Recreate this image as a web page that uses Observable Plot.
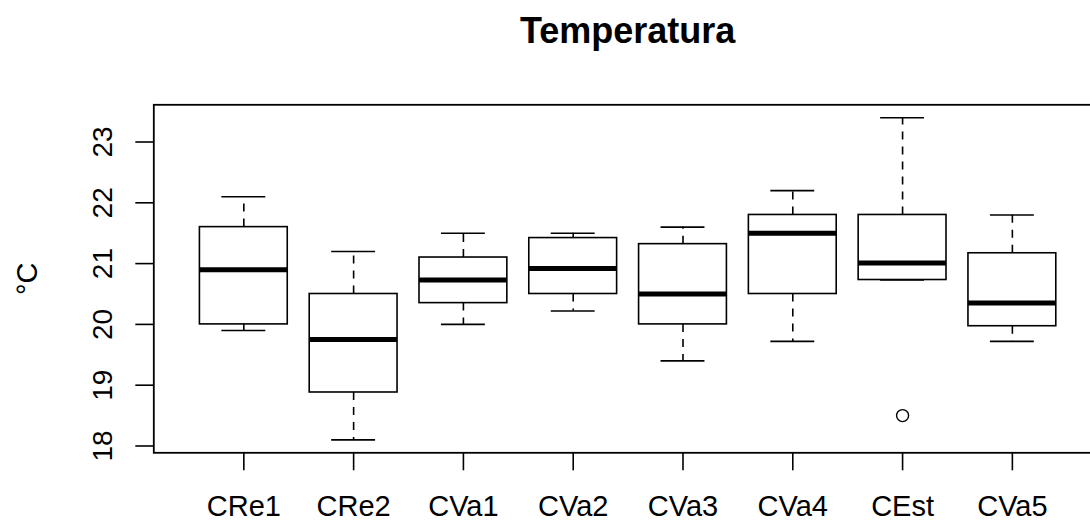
<!DOCTYPE html>
<html>
<head>
<meta charset="utf-8">
<script src="https://cdn.jsdelivr.net/npm/d3@7"></script>
<script src="https://cdn.jsdelivr.net/npm/@observablehq/plot@0.6"></script>
<style>
  html, body { margin: 0; padding: 0; background: white; overflow: hidden; }
  #title { position: relative; height: 60px; width: 1090px; font-family: "Liberation Sans", Arial, sans-serif; }
  #title span { position: absolute; left: 627.6px; top: 13px; transform: translateX(-50%); font-size: 36px; line-height: 36px; font-weight: bold; color: #000; white-space: nowrap; }
</style>
</head>
<body>
<div id="title"><span>Temperatura</span></div>
<div id="chart"></div>
<script>
// ---- data ----
const categories   = ["CRe1", "CRe2", "CVa1", "CVa2", "CVa3", "CVa4", "CEst", "CVa5"];
const lowerWhisker = [19.9, 18.1, 20.0, 20.22, 19.4, 19.72, 20.73, 19.72];
const lowerHinge   = [20.0, 18.88, 20.35, 20.5, 20.0, 20.5, 20.73, 19.97];
const medians      = [20.9, 19.75, 20.73, 20.92, 20.5, 21.5, 21.01, 20.35];
const upperHinge   = [21.6, 20.5, 21.1, 21.42, 21.32, 21.8, 21.8, 21.17];
const upperWhisker = [22.1, 21.2, 21.5, 21.5, 21.6, 22.2, 23.4, 21.8];
const outlierCategory = ["CEst"];
const outlierValue    = [18.5];
const yTicks = [18, 19, 20, 21, 22, 23];
const yLabel = "°C";

// ---- tables built from the arrays ----
const rows = categories.map((c, i) => ({
  pos: i + 1, cat: c,
  lo: lowerWhisker[i], q1: lowerHinge[i], med: medians[i], q3: upperHinge[i], hi: upperWhisker[i]
}));
const outliers = outlierCategory.map((c, i) => ({pos: categories.indexOf(c) + 1, value: outlierValue[i]}));

const boxHalf = 0.4, stapleHalf = 0.2;
const lw = 1.6;

const chart = Plot.plot({
  width: 1090,
  height: 462,
  marginLeft: 153.3,
  marginRight: -11.9,
  marginTop: 44.3,
  marginBottom: 69.7,
  style: {fontFamily: "'Liberation Sans', Arial, sans-serif", color: "#000", background: "white"},
  x: {type: "linear", domain: [0.18, 8.82], axis: null, label: null},
  y: {domain: [17.888, 23.612], axis: null, label: null},
  marks: [
    Plot.frame({stroke: "#000", strokeWidth: 1.8}),
    // whiskers (dashed)
    Plot.ruleX(rows, {x: "pos", y1: "q1", y2: "lo", stroke: "#000", strokeWidth: lw, strokeDasharray: "8,7"}),
    Plot.ruleX(rows, {x: "pos", y1: "q3", y2: "hi", stroke: "#000", strokeWidth: lw, strokeDasharray: "8,7"}),
    // staples
    Plot.ruleY(rows, {y: "lo", x1: d => d.pos - stapleHalf, x2: d => d.pos + stapleHalf, stroke: "#000", strokeWidth: lw}),
    Plot.ruleY(rows, {y: "hi", x1: d => d.pos - stapleHalf, x2: d => d.pos + stapleHalf, stroke: "#000", strokeWidth: lw}),
    // boxes
    Plot.rect(rows, {x1: d => d.pos - boxHalf, x2: d => d.pos + boxHalf, y1: "q1", y2: "q3", fill: "white", stroke: "#000", strokeWidth: lw}),
    // medians
    Plot.ruleY(rows, {y: "med", x1: d => d.pos - boxHalf, x2: d => d.pos + boxHalf, stroke: "#000", strokeWidth: 5}),
    // outliers
    Plot.dot(outliers, {x: "pos", y: "value", r: 6, stroke: "#000", fill: "none", strokeWidth: 1.4}),
    // axes
    Plot.axisX({ticks: categories.map((c, i) => i + 1), tickFormat: p => categories[p - 1], label: null, tickSize: 18, tickPadding: 25, fontSize: 29, stroke: "#000", strokeWidth: lw, fill: "#000"}),
    Plot.axisY({ticks: yTicks, tickFormat: d => String(d), label: null, tickSize: 18, tickPadding: 23.6, tickRotate: -90, fontSize: 28, stroke: "#000", strokeWidth: lw, fill: "#000"}),
    Plot.text([yLabel], {frameAnchor: "left", dx: 36.7 - 153.3, rotate: -90, textAnchor: "middle", lineAnchor: "bottom", fontSize: 29, fill: "#000"})
  ]
});
document.getElementById("chart").appendChild(chart);
</script>
</body>
</html>
